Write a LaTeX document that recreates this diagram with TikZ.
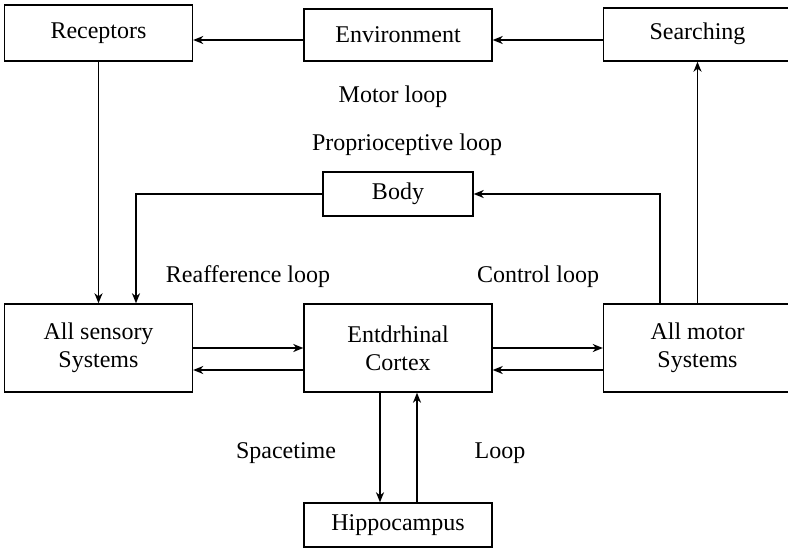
\documentclass[tikz,border=0pt]{standalone}
\usepackage{fontspec}
\setmainfont{Liberation Serif}
\usetikzlibrary{arrows.meta}
\begin{document}
\begin{tikzpicture}[x=1pt, y=-1pt, >={Stealth[length=10pt,width=8pt,inset=3pt]}, line width=1.4pt,
  block/.style={draw, inner sep=0pt, minimum width=188pt, align=center, font=\rmfamily\fontsize{24}{28}\selectfont},
  lbl/.style={font=\rmfamily\fontsize{24}{28}\selectfont}]
\useasboundingbox (0,0) rectangle (788,549);
\node[block, minimum height=56pt] (rec) at (98.5,33) {Receptors};
\node[block, minimum height=52pt] (env) at (398,35) {Environment};
\node[block, minimum height=53pt] (sea) at (697.5,34.5) {\raisebox{6pt}{Searching}};
\node[block, minimum width=150pt, minimum height=44pt] (body) at (398,194) {Body};
\node[block, minimum height=88pt] (sen) at (98.5,348) {All sensory\\Systems};
\node[block, minimum height=88pt] (ent) at (398,348) {Entdrhinal\\Cortex};
\node[block, minimum height=88pt] (mot) at (697.5,348) {All motor\\Systems};
\node[block, minimum height=44pt] (hip) at (398,525) {Hippocampus};
\node[lbl] (motor) at (393,97) {Motor loop};
\node[lbl] (prop) at (407,145) {Proprioceptive loop};
\node[lbl] (reaff) at (248,277) {Reafference loop};
\node[lbl] (ctrl) at (538,277) {Control loop};
\node[lbl] (space) at (286,453) {Spacetime};
\node[lbl] (loop) at (500,453) {Loop};
\draw[->] ([yshift=-5pt]env.west) -- ([yshift=-5pt]env.west -| rec.east);
\draw[->] ([yshift=-5.5pt]sea.west) -- ([yshift=-5.5pt]sea.west -| env.east);
\draw[->] (rec) -- (sen);
\draw[->] (body.west) -| ([xshift=37.5pt]sen.north);
\draw[->] ([xshift=-37.5pt]mot.north) |- (body.east);
\draw[->] (mot) -- (sea);
\draw[->] (sen) -- (ent);
\draw[->] ([yshift=-22pt]ent.west) -- ([yshift=-22pt]sen.east);
\draw[->] (ent) -- (mot);
\draw[->] ([yshift=-22pt]mot.west) -- ([yshift=-22pt]ent.east);
\draw[->] ([xshift=-18pt]ent.south) -- ([xshift=-18pt]hip.north);
\draw[->] ([xshift=19pt]hip.north) -- ([xshift=19pt]ent.south);
\end{tikzpicture}
\end{document}
